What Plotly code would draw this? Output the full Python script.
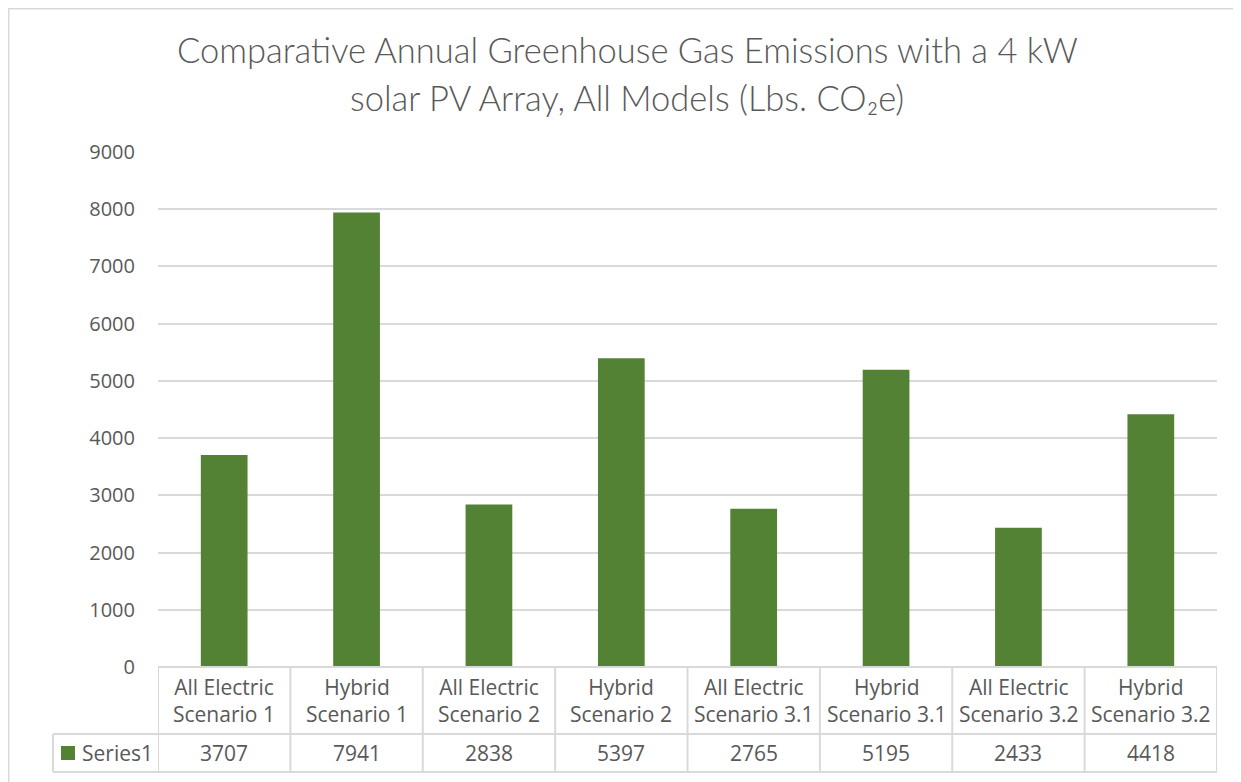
import plotly.graph_objects as go

# ~~~~~~~~~~~~ Data ~~~~~~~~~~~~
categories = [
    "All Electric<br>Scenario 1",
    "Hybrid<br>Scenario 1",
    "All Electric<br>Scenario 2",
    "Hybrid<br>Scenario 2",
    "All Electric<br>Scenario 3.1",
    "Hybrid<br>Scenario 3.1",
    "All Electric<br>Scenario 3.2",
    "Hybrid<br>Scenario 3.2",
]
series_name = "Series1"
series_values = [3707, 7941, 2838, 5397, 2765, 5195, 2433, 4418]
y_ticks = [0, 1000, 2000, 3000, 4000, 5000, 6000, 7000, 8000, 9000]
title_lines = [
    "Comparative Annual Greenhouse Gas Emissions with a 4 kW",
    "solar PV Array, All Models (Lbs. CO₂e)",
]

# ~~~~~~~~~~~~ Styling ~~~~~~~~~~~~
# the page body has an 8px margin, so the figure is drawn 8px smaller
OFF = 8
W, H = 1241 - OFF, 782 - OFF
PLOT_X0, PLOT_X1 = 158, 1217  # plot area in page pixels
PLOT_Y0, PLOT_Y1 = 152, 667
L, R = PLOT_X0 - OFF, W - (PLOT_X1 - OFF)
T, B = PLOT_Y0 - OFF, H - (PLOT_Y1 - OFF)
PW, PH = PLOT_X1 - PLOT_X0, PLOT_Y1 - PLOT_Y0
BAR_COLOR = "#548235"
TEXT_COLOR = "#595959"
LINE_COLOR = "#d9d9d9"
FONT = "Open Sans"


def px_x(px):
    return (px - PLOT_X0) / PW


def px_y(py):
    return (PLOT_Y1 - py) / PH


n = len(categories)
idx = list(range(n))

fig = go.Figure(
    go.Bar(
        x=idx,
        y=series_values,
        name=series_name,
        marker=dict(color=BAR_COLOR, line=dict(width=0)),
        hovertemplate="%{y}<extra></extra>",
    )
)

# ~~~~~~~~~~~~ Data table under the axis ~~~~~~~~~~~~
row_header_top, row_split, row_bottom = 667, 734, 772
shapes = []
line = dict(color=LINE_COLOR, width=2)
# horizontal rules
shapes.append(dict(type="line", xref="paper", yref="paper", x0=0, x1=1,
                   y0=px_y(row_header_top), y1=px_y(row_header_top), line=line))
for py in (row_split, row_bottom):
    shapes.append(dict(type="line", xref="paper", yref="paper", x0=px_x(53), x1=1,
                       y0=px_y(py), y1=px_y(py), line=line))
# vertical rules on category boundaries
for i in range(n + 1):
    shapes.append(dict(type="line", xref="x", yref="paper", x0=i - 0.5, x1=i - 0.5,
                       y0=px_y(row_bottom), y1=px_y(row_header_top), line=line))
shapes.append(dict(type="line", xref="paper", yref="paper", x0=px_x(53), x1=px_x(53),
                   y0=px_y(row_bottom), y1=px_y(row_split), line=line))
# legend key
shapes.append(dict(type="rect", xref="paper", yref="paper",
                   x0=px_x(61), x1=px_x(75), y0=px_y(760), y1=px_y(746),
                   fillcolor=BAR_COLOR, line=dict(width=0)))
# chart frame (only top and left edges fall inside the page)
shapes.append(dict(type="rect", xref="paper", yref="paper",
                   x0=px_x(8.5), x1=px_x(1260), y0=px_y(800), y1=px_y(8.5),
                   line=dict(color=LINE_COLOR, width=2), layer="below"))

annotations = []
for i, (cat, val) in enumerate(zip(categories, series_values)):
    annotations.append(dict(x=i, y=px_y(700), xref="x", yref="paper", text=cat,
                            showarrow=False, font=dict(size=21, color=TEXT_COLOR),
                            align="center", yanchor="middle"))
    annotations.append(dict(x=i, y=px_y(753), xref="x", yref="paper", text=str(val),
                            showarrow=False, font=dict(size=21, color=TEXT_COLOR),
                            yanchor="middle"))
annotations.append(dict(x=px_x(80), y=px_y(753), xref="paper", yref="paper",
                        text=series_name, showarrow=False, xanchor="left",
                        yanchor="middle", font=dict(size=21, color=TEXT_COLOR)))

# ~~~~~~~~~~~~ Title ~~~~~~~~~~~~
for text, py in zip(title_lines, (50, 98)):
    annotations.append(dict(x=px_x(627), y=px_y(py), xref="paper", yref="paper",
                            text=text, showarrow=False, yanchor="middle",
                            font=dict(family="Lato", size=34.5, color=TEXT_COLOR,
                                      weight=300)))

fig.update_layout(
    width=W,
    height=H,
    margin=dict(l=L, r=R, t=T, b=B, pad=0),
    paper_bgcolor="white",
    plot_bgcolor="white",
    font=dict(family=FONT, color=TEXT_COLOR, size=20),
    showlegend=False,
    bargap=0.647,
    shapes=shapes,
    annotations=annotations,
    xaxis=dict(
        range=[-0.5, n - 0.5],
        showticklabels=False,
        showgrid=False,
        zeroline=False,
        showline=False,
        fixedrange=True,
    ),
    yaxis=dict(
        range=[0, 9000],
        tickvals=y_ticks,
        showgrid=True,
        gridcolor=LINE_COLOR,
        gridwidth=1.5,
        zeroline=False,
        showline=False,
        ticklabelstandoff=22,
        tickfont=dict(size=20, color=TEXT_COLOR),
        fixedrange=True,
    ),
)

fig.write_html("out.html")
